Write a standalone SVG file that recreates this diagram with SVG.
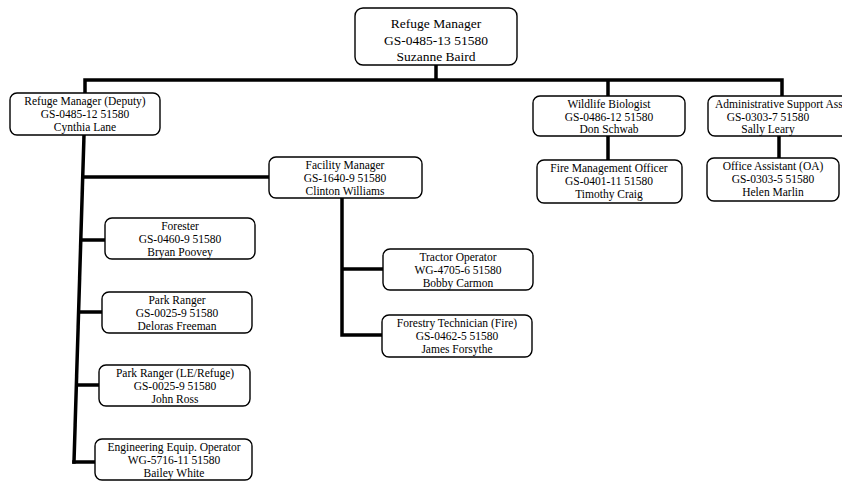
<svg xmlns="http://www.w3.org/2000/svg" width="842" height="481" viewBox="0 0 842 481">
<style>
.box{fill:#fff;stroke:#000;stroke-width:1.4}
.t{font-family:"Liberation Serif","Times New Roman",serif;font-size:11.5px;fill:#000;text-anchor:middle}
.big{font-size:13.5px}
.c{stroke:#000;stroke-width:3.5;fill:none;stroke-linecap:square}
</style>
<rect width="842" height="481" fill="#fff"/>
<g id="connectors">
<path class="c" d="M436 65 V80 M85 80 H782 M85 80 V93 M608 80 V96 M782 80 V96"/>
<path class="c" d="M84 135 L74 462"/>
<path class="c" d="M83 177 H269 M82 240 H105 M80 312 H102 M77 385 H99 M74 462 H95"/>
<path class="c" d="M608 136 V160 M779 136 V158"/>
<path class="c" d="M342 198 V335 M342 269 H383 M342 335 H382"/>
</g>
<g id="refuge-manager">
<rect class="box" x="355" y="8" width="162" height="57" rx="8"/>
<text class="t big" x="436" y="28">Refuge Manager</text>
<text class="t big" x="436" y="45">GS-0485-13 51580</text>
<text class="t big" x="436" y="61">Suzanne Baird</text>
</g>
<g id="deputy">
<rect class="box" x="10" y="93" width="150" height="42" rx="7"/>
<text class="t" x="85" y="105">Refuge Manager (Deputy)</text>
<text class="t" x="85" y="118">GS-0485-12 51580</text>
<text class="t" x="85" y="131">Cynthia Lane</text>
</g>
<g id="wildlife-biologist">
<rect class="box" x="533" y="96" width="152" height="40" rx="7"/>
<text class="t" x="609" y="108">Wildlife Biologist</text>
<text class="t" x="609" y="121">GS-0486-12 51580</text>
<text class="t" x="609" y="133">Don Schwab</text>
</g>
<g id="admin-support">
<rect class="box" x="708" y="96" width="150" height="40" rx="7"/>
<text class="t" x="715" y="108" style="text-anchor:start">Administrative Support Ass</text>
<text class="t" x="768" y="121">GS-0303-7 51580</text>
<text class="t" x="768" y="133">Sally Leary</text>
</g>
<g id="fire-management-officer">
<rect class="box" x="537" y="160" width="145" height="43" rx="7"/>
<text class="t" x="609" y="172">Fire Management Officer</text>
<text class="t" x="609" y="185">GS-0401-11  51580</text>
<text class="t" x="609" y="198">Timothy Craig</text>
</g>
<g id="office-assistant">
<rect class="box" x="707" y="158" width="132" height="43" rx="7"/>
<text class="t" x="773" y="170">Office Assistant (OA)</text>
<text class="t" x="773" y="183">GS-0303-5 51580</text>
<text class="t" x="773" y="196">Helen Marlin</text>
</g>
<g id="facility-manager">
<rect class="box" x="269" y="157" width="153" height="41" rx="7"/>
<text class="t" x="345" y="169">Facility Manager</text>
<text class="t" x="345" y="182">GS-1640-9 51580</text>
<text class="t" x="345" y="195">Clinton Williams</text>
</g>
<g id="forester">
<rect class="box" x="105" y="218" width="150" height="41" rx="7"/>
<text class="t" x="180" y="230">Forester</text>
<text class="t" x="180" y="243">GS-0460-9 51580</text>
<text class="t" x="180" y="256">Bryan Poovey</text>
</g>
<g id="park-ranger">
<rect class="box" x="102" y="292" width="150" height="41" rx="7"/>
<text class="t" x="177" y="304">Park Ranger</text>
<text class="t" x="177" y="317">GS-0025-9 51580</text>
<text class="t" x="177" y="330">Deloras Freeman</text>
</g>
<g id="park-ranger-le">
<rect class="box" x="99" y="365" width="151" height="41" rx="7"/>
<text class="t" x="175" y="377">Park Ranger (LE/Refuge)</text>
<text class="t" x="175" y="390">GS-0025-9  51580</text>
<text class="t" x="175" y="403">John Ross</text>
</g>
<g id="engineering-equip-operator">
<rect class="box" x="95" y="439" width="157" height="41" rx="7"/>
<text class="t" x="174" y="451">Engineering Equip. Operator</text>
<text class="t" x="174" y="464">WG-5716-11 51580</text>
<text class="t" x="174" y="477">Bailey White</text>
</g>
<g id="tractor-operator">
<rect class="box" x="383" y="249" width="150" height="41" rx="7"/>
<text class="t" x="458" y="261">Tractor Operator</text>
<text class="t" x="458" y="274">WG-4705-6 51580</text>
<text class="t" x="458" y="287">Bobby Carmon</text>
</g>
<g id="forestry-technician">
<rect class="box" x="382" y="315" width="150" height="42" rx="7"/>
<text class="t" x="457" y="327">Forestry Technician (Fire)</text>
<text class="t" x="457" y="340">GS-0462-5 51580</text>
<text class="t" x="457" y="353">James Forsythe</text>
</g>
</svg>
